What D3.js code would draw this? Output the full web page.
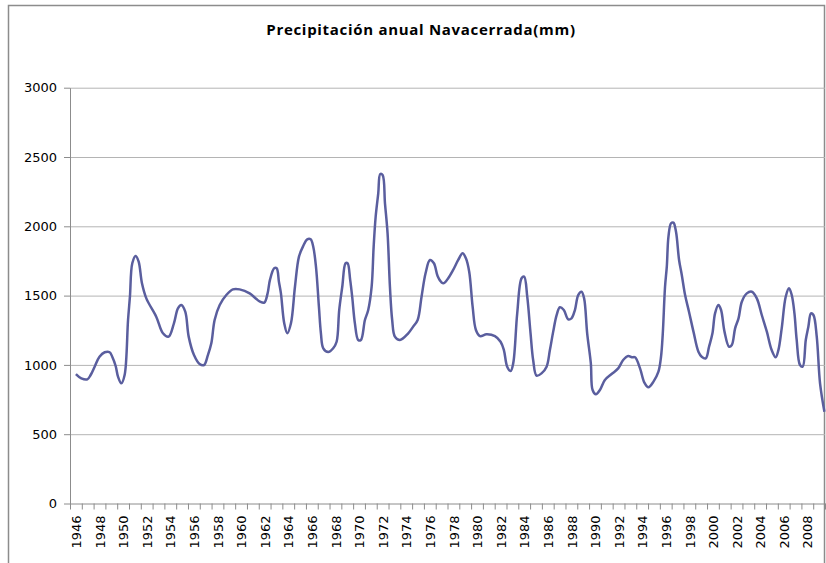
<!DOCTYPE html>
<html>
<head>
<meta charset="utf-8">
<script src="https://cdn.jsdelivr.net/npm/d3@7"></script>
<style>
  body { margin: 0; background: #fff; }
  svg { display: block; }
</style>
</head>
<body>
<script>
// posicion (año decimal) y precipitacion
var yearPos = [
  1946.0, 1946.46, 1946.97, 1947.25, 1947.59, 1948.0, 1948.44, 1948.86, 1949.08, 1949.37,
  1949.57, 1949.85, 1950.13, 1950.42, 1950.58, 1950.78, 1951.07, 1951.32, 1951.6, 1951.97,
  1952.81, 1953.38, 1953.86, 1954.31, 1954.65, 1954.93, 1955.27, 1955.56, 1956.01, 1956.49,
  1956.86, 1957.19, 1957.48, 1957.76, 1958.19, 1958.75, 1959.31, 1959.88, 1960.73, 1961.3,
  1961.61, 1961.97, 1962.25, 1962.45, 1962.81, 1963.02, 1963.21, 1963.38, 1963.66, 1963.92,
  1964.23, 1964.57, 1964.91, 1965.27, 1965.61, 1965.9, 1966.12, 1966.35, 1966.6, 1966.77,
  1966.97, 1967.39, 1967.81, 1968.1, 1968.32, 1968.58, 1968.86, 1969.03, 1969.25, 1969.42,
  1969.65, 1969.93, 1970.16, 1970.5, 1970.78, 1971.07, 1971.24, 1971.41, 1971.63, 1971.8,
  1972.0, 1972.2, 1972.42, 1972.62, 1972.81, 1973.04, 1973.47, 1974.17, 1974.59, 1974.97,
  1975.3, 1975.64, 1976.01, 1976.35, 1976.66, 1977.0, 1977.2, 1977.56, 1977.98, 1978.41,
  1978.78, 1979.06, 1979.34, 1979.63, 1979.91, 1980.25, 1980.81, 1981.52, 1982.0, 1982.28,
  1982.56, 1982.85, 1983.07, 1983.41, 1983.78, 1984.0, 1984.26, 1984.54, 1984.76, 1985.05,
  1985.47, 1985.9, 1986.18, 1986.46, 1986.75, 1987.03, 1987.36, 1987.73, 1988.01, 1988.3,
  1988.58, 1988.86, 1989.08, 1989.34, 1989.65, 1989.8, 1990.08, 1990.42, 1990.84, 1991.41,
  1991.97, 1992.39, 1992.82, 1993.12, 1993.4, 1993.82, 1994.19, 1994.53, 1994.96, 1995.38,
  1995.6, 1995.75, 1995.94, 1996.09, 1996.23, 1996.45, 1996.65, 1996.87, 1997.13, 1997.36,
  1997.64, 1997.97, 1998.35, 1998.77, 1999.05, 1999.39, 1999.67, 1999.96, 2000.18, 2000.47,
  2000.69, 2000.98, 2001.37, 2001.6, 2001.88, 2002.17, 2002.45, 2002.87, 2003.3, 2003.72,
  2004.14, 2004.57, 2004.98, 2005.32, 2005.55, 2005.83, 2006.17, 2006.45, 2006.68, 2006.91,
  2007.1, 2007.38, 2007.61, 2007.87, 2008.09, 2008.31, 2008.52, 2008.8, 2009.08, 2009.45
];
var precip = [
  934, 903, 896, 927, 987, 1059, 1091, 1091, 1059, 992,
  915, 867, 927, 1324, 1492, 1733, 1786, 1745, 1589, 1480,
  1348, 1228, 1204, 1300, 1408, 1432, 1384, 1204, 1071, 1006,
  999, 1071, 1156, 1324, 1432, 1504, 1545, 1545, 1516, 1475,
  1456, 1449, 1516, 1613, 1697, 1697, 1600, 1516, 1300, 1228,
  1300, 1564, 1781, 1858, 1906, 1906, 1853, 1709, 1420, 1228,
  1120, 1093, 1120, 1167, 1396, 1564, 1733, 1733, 1613, 1492,
  1300, 1180, 1180, 1324, 1396, 1564, 1853, 2069, 2238, 2377,
  2370, 2166, 1949, 1564, 1324, 1204, 1180, 1228, 1276, 1324,
  1492, 1661, 1757, 1733, 1641, 1595, 1590, 1625, 1685, 1757,
  1805, 1769, 1672, 1420, 1252, 1208, 1221, 1208, 1167, 1107,
  987, 956, 1011, 1372, 1625, 1636, 1492, 1228, 1035, 922,
  939, 987, 1107, 1240, 1360, 1416, 1396, 1329, 1336, 1396,
  1504, 1528, 1480, 1228, 1011, 819, 788, 819, 891, 934,
  975, 1035, 1064, 1055, 1055, 975, 872, 838, 879, 951,
  1059, 1228, 1564, 1709, 1925, 2022, 2026, 1961, 1757, 1649,
  1504, 1384, 1240, 1095, 1059, 1047, 1131, 1228, 1372, 1432,
  1396, 1240, 1131, 1143, 1264, 1336, 1456, 1516, 1528, 1480,
  1360, 1240, 1107, 1055, 1107, 1264, 1492, 1553, 1504, 1372,
  1180, 999, 987, 1180, 1276, 1372, 1360, 1204, 867, 662
];
var years = d3.range(1946, 2010);          // categorias del eje
var yTicks = [0, 500, 1000, 1500, 2000, 2500, 3000];
var titulo = "Precipitación anual Navacerrada(mm)";

var W = 826, H = 563;
var plotL = 70, plotR = 825, plotT = 87.7, plotB = 503.5;
var axisColor = "#8c8c8c", gridColor = "#b4b4b4";
var tickFont = "'DejaVu Sans', Verdana, sans-serif";

var svg = d3.select("body").append("svg")
    .attr("width", W)
    .attr("height", H);

// borde exterior del grafico
svg.append("rect")
    .attr("x", 8.5).attr("y", 5.5)
    .attr("width", 816).attr("height", 600)
    .attr("fill", "#fff")
    .attr("stroke", axisColor)
    .attr("stroke-width", 1.5);

var x = d3.scaleLinear().domain([1945.5, 2009.5]).range([plotL, plotR]);
var y = d3.scaleLinear().domain([0, 3000]).range([plotB, plotT]);

function styleAxis(g) {
    g.selectAll("path, line").attr("stroke", axisColor);
    g.selectAll("text")
        .attr("fill", "#000")
        .style("font-family", tickFont)
        .style("font-size", "13px");
}

// lineas de division
var grid = svg.append("g")
    .attr("transform", "translate(" + plotL + ",0)")
    .call(d3.axisLeft(y).tickValues(yTicks.slice(1)).tickSize(-(plotR - plotL)).tickFormat(""));
grid.select(".domain").remove();
grid.selectAll("line").attr("stroke", gridColor);

// eje y
svg.append("g")
    .attr("transform", "translate(" + plotL + ",0)")
    .call(d3.axisLeft(y).tickValues(yTicks).tickSize(6).tickSizeOuter(0).tickPadding(7)
        .tickFormat(d3.format("d")))
    .call(styleAxis);

// eje x: marcas entre categorias
var edges = d3.range(1945.5, 2010, 1);
svg.append("g")
    .attr("transform", "translate(0," + plotB + ")")
    .call(d3.axisBottom(x).tickValues(edges).tickSize(6).tickSizeOuter(0).tickFormat(""))
    .call(styleAxis);

// etiquetas cada dos años
var labels = svg.append("g")
    .attr("transform", "translate(0," + plotB + ")")
    .call(d3.axisBottom(x).tickValues(years.filter(function (d) { return d % 2 === 0; }))
        .tickSize(0).tickFormat(d3.format("d")))
    .call(styleAxis);
labels.select(".domain").remove();
labels.selectAll("text")
    .attr("transform", "rotate(-90)")
    .attr("x", -12)
    .attr("y", 0)
    .attr("dy", "0.36em")
    .style("text-anchor", "end");

// serie
var line = d3.line()
    .x(function (d, i) { return x(yearPos[i]); })
    .y(function (d) { return y(d); })
    .curve(d3.curveCatmullRom);

svg.append("path")
    .datum(precip)
    .attr("fill", "none")
    .attr("stroke", "#5a5e9e")
    .attr("stroke-width", 2.5)
    .attr("stroke-linejoin", "round")
    .attr("d", line);

// titulo
svg.append("text")
    .attr("x", 421)
    .attr("y", 35)
    .attr("text-anchor", "middle")
    .style("font-family", "'Open Sans', 'Liberation Sans', sans-serif")
    .style("font-weight", "bold")
    .style("font-size", "15px")
    .style("letter-spacing", "0.7px")
    .text(titulo);
</script>
</body>
</html>
